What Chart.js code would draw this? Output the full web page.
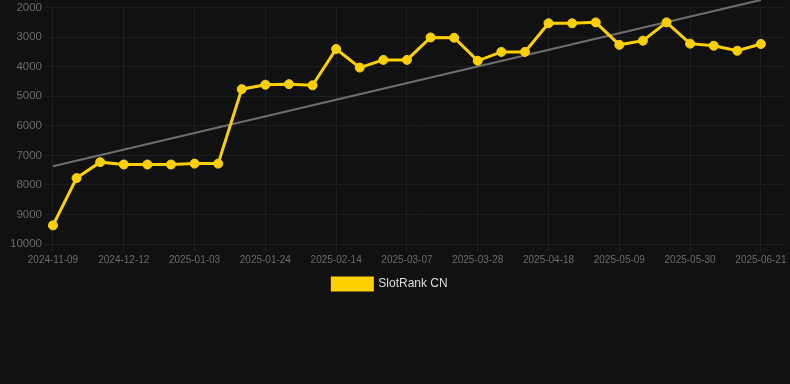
<!DOCTYPE html>
<html>
<head>
<meta charset="utf-8">
<script src="https://cdn.jsdelivr.net/npm/chart.js@4/dist/chart.umd.min.js"></script>
<style>
  html, body { margin: 0; padding: 0; background: #111111; }
  #wrap { width: 790px; height: 384px; position: relative; }
  #box { width: 790px; height: 300px; position: relative; }
</style>
</head>
<body>
<div id="wrap"><div id="box"><canvas id="rankChart"></canvas></div></div>
<script>
// Dates (category axis), one per sample; only every third one shows
const dates = [
    '2024-11-09', '2024-11-20', '2024-12-01', '2024-12-12', '2024-12-19', '2024-12-26',
    '2025-01-03', '2025-01-10', '2025-01-17', '2025-01-24', '2025-01-31', '2025-02-07',
    '2025-02-14', '2025-02-21', '2025-02-28', '2025-03-07', '2025-03-14', '2025-03-21',
    '2025-03-28', '2025-04-04', '2025-04-11', '2025-04-18', '2025-04-25', '2025-05-02',
    '2025-05-09', '2025-05-16', '2025-05-23', '2025-05-30', '2025-06-07', '2025-06-14',
    '2025-06-21', '2025-06-28'
];

// SlotRank CN rank values
const rankValues = [
    9370, 7770, 7230, 7310, 7310, 7310, 7280, 7280, 4760, 4610,
    4590, 4630, 3400, 4030, 3770, 3770, 3010, 3020, 3800, 3500,
    3500, 2530, 2530, 2500, 3260, 3120, 2500, 3220, 3290, 3460,
    3230, null
];

// Trend line, read at its two ends
const trendValues = [7370].concat(new Array(29).fill(null), [1740, null]);

const yTicks = [2000, 3000, 4000, 5000, 6000, 7000, 8000, 9000, 10000];

const gridColor = '#1f1f1f';
const tickColor = '#6b6b6b';
const fontFamily = 'Arial, "Liberation Sans", sans-serif';

// nudge the legend a little left, as in the original
const legendShift = {
    id: 'legendShift',
    afterLayout(chart) {
        const lg = chart.legend;
        if (!lg) return;
        lg.left -= 8;
        lg.right -= 8;
        if (lg.legendHitBoxes) lg.legendHitBoxes.forEach(h => { h.left -= 8; });
    }
};

const ctx = document.getElementById('rankChart').getContext('2d');
const rankChart = new Chart(ctx, {
    type: 'line',
    data: {
        labels: dates,
        datasets: [
            {
                label: 'SlotRank CN',
                data: rankValues,
                borderColor: '#FFD000',
                backgroundColor: '#FFD000',
                borderWidth: 3,
                pointRadius: 4.5,
                pointHoverRadius: 4.5,
                pointBorderWidth: 1,
                pointBackgroundColor: '#FFD000',
                pointBorderColor: '#FFD000',
                fill: false,
                tension: 0,
                order: 1
            },
            {
                label: 'trend',
                data: trendValues,
                borderColor: '#6e6e6e',
                borderWidth: 2,
                pointRadius: 0,
                spanGaps: true,
                clip: false,
                fill: false,
                tension: 0,
                order: 2
            }
        ]
    },
    options: {
        responsive: true,
        maintainAspectRatio: false,
        animation: false,
        layout: { padding: { left: 7, right: 1, top: 0, bottom: 0 } },
        plugins: {
            legend: {
                position: 'bottom',
                labels: {
                    color: '#dddddd',
                    boxWidth: 40,
                    boxHeight: 12,
                    font: { family: fontFamily, size: 12 },
                    filter: item => item.text !== 'trend'
                }
            },
            tooltip: { enabled: false }
        },
        scales: {
            x: {
                grid: { color: gridColor, tickColor: gridColor },
                border: { color: gridColor },
                ticks: {
                    color: tickColor,
                    padding: 2,
                    maxRotation: 0,
                    autoSkip: true,
                    maxTicksLimit: 11,
                    font: { family: fontFamily, size: 10 }
                }
            },
            y: {
                reverse: true,
                min: yTicks[0],
                max: yTicks[yTicks.length - 1],
                afterBuildTicks: axis => { axis.ticks = yTicks.map(v => ({ value: v })); },
                grid: { color: gridColor, tickColor: gridColor },
                border: { color: gridColor },
                ticks: {
                    color: tickColor,
                    callback: v => String(v),
                    font: { family: fontFamily, size: 11.5, lineHeight: 0.8 }
                }
            }
        }
    },
    plugins: [legendShift]
});
</script>
</body>
</html>
